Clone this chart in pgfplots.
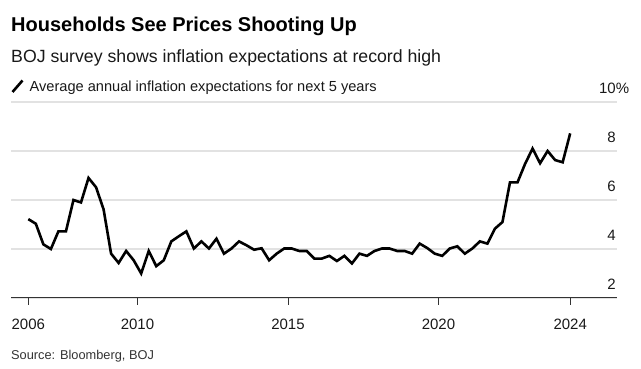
\documentclass[border=0pt]{standalone}
\usepackage{pgfplots}
\pgfplotsset{compat=1.18}
\usepackage{fontspec}
\setmainfont{Liberation Sans}
\definecolor{gridgrey}{HTML}{E2E2E2}
\definecolor{axisgrey}{HTML}{333333}
\begin{document}
\begin{tikzpicture}
\useasboundingbox (0,0) rectangle (641pt,369pt);
\begin{axis}[
  at={(11pt,71pt)}, anchor=south west,
  scale only axis, width=606pt, height=196pt,
  xmin=2005.80, xmax=2025.93,
  ymin=2, ymax=10,
  axis x line*=bottom, axis y line*=right,
  y axis line style={draw=none},
  x axis line style={-, color=axisgrey, line width=1pt},
  xtick={2006.375,2010,2015,2020,2024.375},
  xticklabels={2006,2010,2015,2020,2024},
  ytick={2,4,6,8,10},
  yticklabels={2,4,6,8,10\rlap{\%}},
  tick align=outside,
  major tick length=7pt,
  xtick style={color=axisgrey, line width=0.9pt},
  ytick style={draw=none},
  ymajorgrids,
  grid style={color=gridgrey, line width=1.5pt},
  /pgf/number format/assume math mode=true,
  ticklabel style={font=\fontsize{15pt}{15pt}\selectfont, text=black!90},
  xticklabel style={anchor=base, inner sep=0pt, yshift=-25pt},
  yticklabel pos=right,
  yticklabel style={anchor=base east, inner sep=0pt, xshift=-8pt, yshift=8.5pt},
  clip=false,
]
\addplot[black, line width=2.6pt] table {
x y
2006.375 5.22
2006.625 5.03
2006.875 4.19
2007.125 4.00
2007.375 4.72
2007.625 4.72
2007.875 6.00
2008.125 5.90
2008.375 6.90
2008.625 6.52
2008.875 5.62
2009.125 3.81
2009.375 3.43
2009.625 3.92
2009.875 3.54
2010.125 3.00
2010.375 3.92
2010.625 3.30
2010.875 3.54
2011.125 4.31
2011.375 4.52
2011.625 4.72
2011.875 4.02
2012.125 4.31
2012.375 4.02
2012.625 4.42
2012.875 3.81
2013.125 4.02
2013.375 4.31
2013.625 4.15
2013.875 3.97
2014.125 4.03
2014.375 3.54
2014.625 3.81
2014.875 4.02
2015.125 4.02
2015.375 3.92
2015.625 3.92
2015.875 3.61
2016.125 3.61
2016.375 3.72
2016.625 3.51
2016.875 3.72
2017.125 3.41
2017.375 3.81
2017.625 3.72
2017.875 3.92
2018.125 4.02
2018.375 4.02
2018.625 3.92
2018.875 3.92
2019.125 3.81
2019.375 4.22
2019.625 4.04
2019.875 3.81
2020.125 3.72
2020.375 4.02
2020.625 4.11
2020.875 3.81
2021.125 4.02
2021.375 4.31
2021.625 4.22
2021.875 4.83
2022.125 5.10
2022.375 6.72
2022.625 6.72
2022.875 7.47
2023.125 8.10
2023.375 7.50
2023.625 8.00
2023.875 7.63
2024.125 7.54
2024.375 8.72
};
\end{axis}
\node[anchor=base west, inner sep=0pt, font=\bfseries\fontsize{20pt}{20pt}\selectfont] at (11pt,337pt) {Households See Prices Shooting Up};
\node[anchor=base west, inner sep=0pt, font=\fontsize{17.7pt}{17.7pt}\selectfont, text=black!90] at (11pt,306.5pt) {BOJ survey shows inflation expectations at record high};
\draw[black, line width=2.6pt] (12.5pt,277pt) -- (22.5pt,288.5pt);
\node[anchor=base west, inner sep=0pt, font=\fontsize{14.6pt}{14.6pt}\selectfont, text=black!90] at (29.5pt,277pt) {Average annual inflation expectations for next 5 years};
\node[anchor=base west, inner sep=0pt, font=\fontsize{12.8pt}{12.8pt}\selectfont, text=black!80] at (11pt,9.5pt) {Source: Bloomberg, BOJ};
\end{tikzpicture}
\end{document}
